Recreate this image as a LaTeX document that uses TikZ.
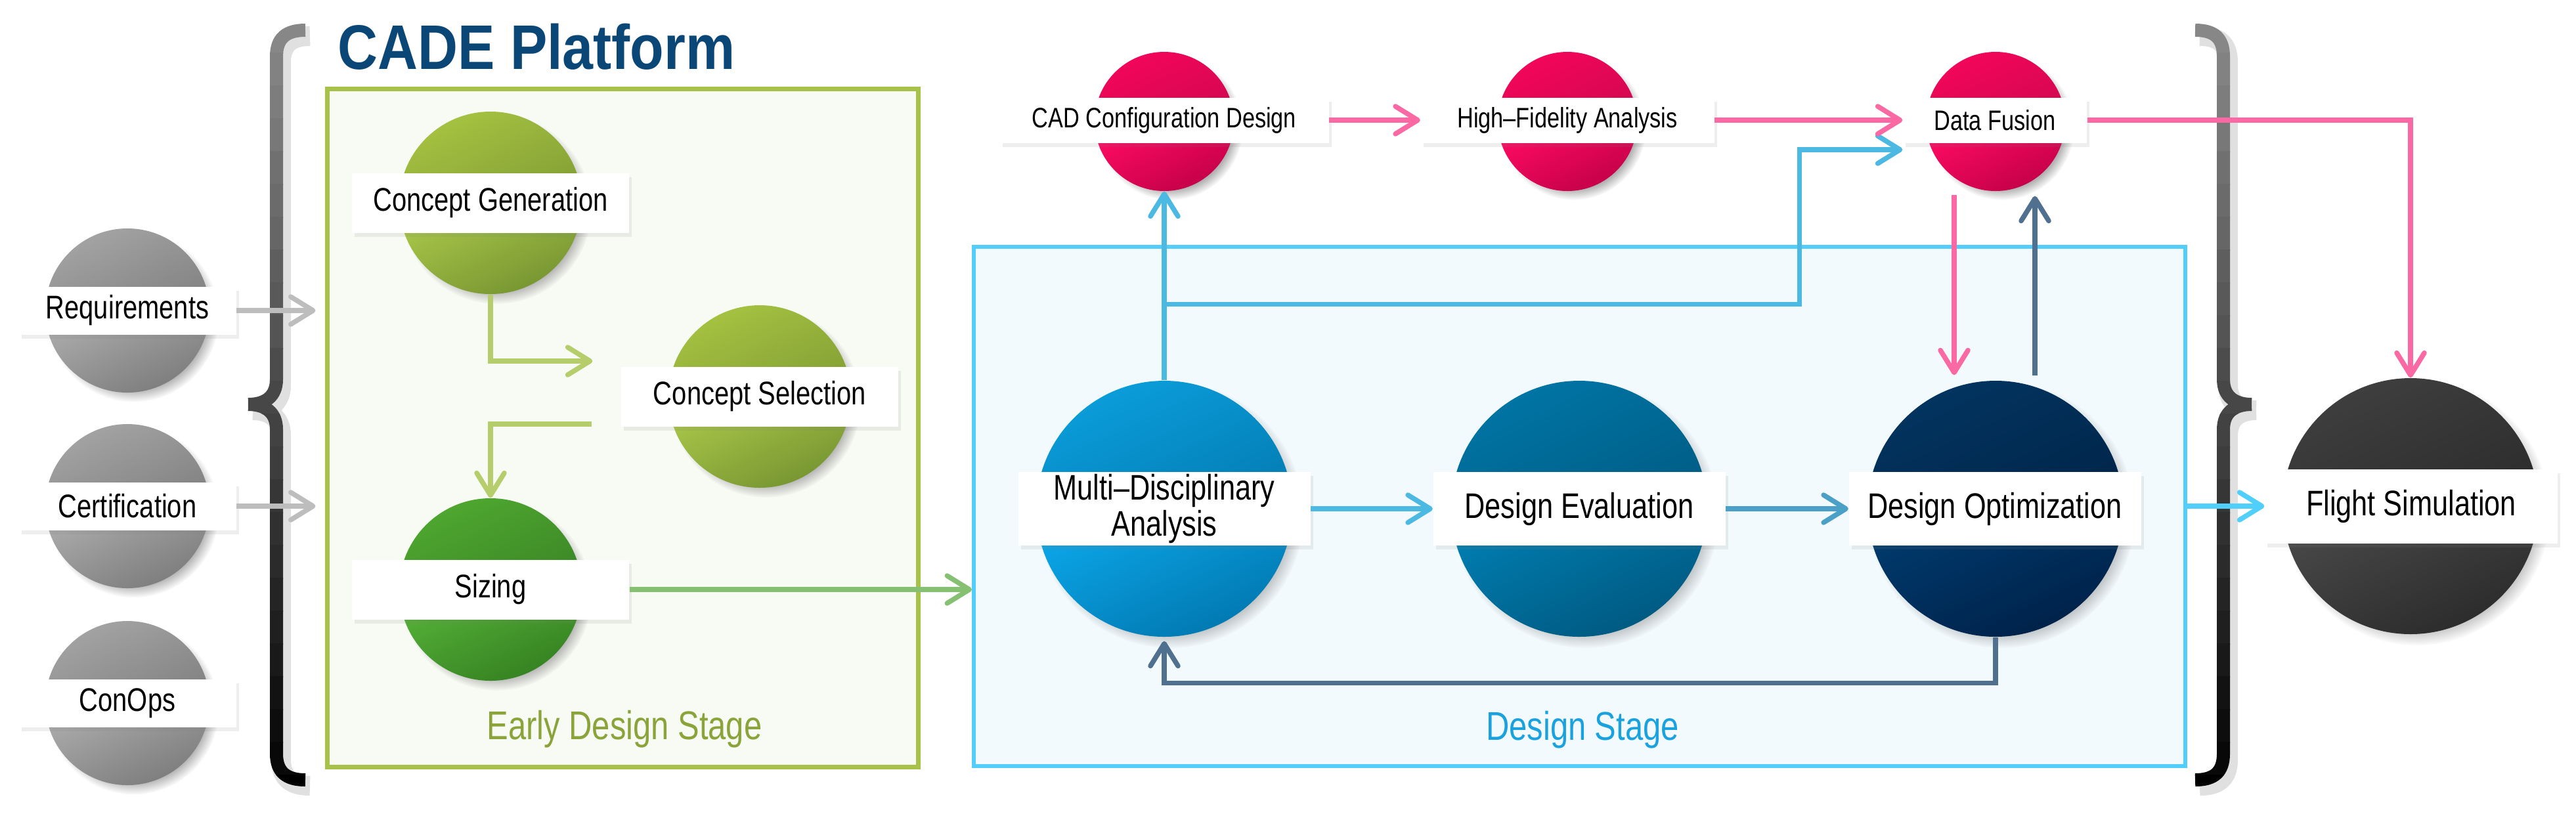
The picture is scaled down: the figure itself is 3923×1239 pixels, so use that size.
\documentclass[tikz,border=0pt]{standalone}
\usepackage{fontspec}
\usetikzlibrary{arrows.meta,shadows,fadings}
\newfontfamily\lblfont{Liberation Sans}[FakeStretch=0.8]
\newfontfamily\ttlfont{Liberation Sans}[FakeStretch=0.88]
% frame and text colours
\definecolor{ttlblue}{HTML}{0B4776}
\definecolor{earlyline}{HTML}{A6C248}
\definecolor{earlyfill}{HTML}{F8FAF4}
\definecolor{earlytxt}{HTML}{8AA43A}
\definecolor{dsline}{HTML}{53CDFB}
\definecolor{dsfill}{HTML}{F2FAFD}
\definecolor{dstxt}{HTML}{1AA2DF}
% connector colours
\definecolor{arrgray}{HTML}{BDBDBD}
\definecolor{arrlgreen}{HTML}{B5CE6B}
\definecolor{arrmgreen}{HTML}{86C173}
\definecolor{arrsky}{HTML}{4CB9E3}
\definecolor{arrteal}{HTML}{4AA0C6}
\definecolor{arrcyan}{HTML}{4FCFFA}
\definecolor{arrsteel}{HTML}{50708F}
\definecolor{arrpink}{HTML}{FB69A4}
% orb shades
\definecolor{gryA}{HTML}{A2A2A2}\definecolor{gryB}{HTML}{6E6E6E}\definecolor{gryC}{HTML}{ACACAC}\definecolor{gryD}{HTML}{7B7B7B}
\definecolor{lgrA}{HTML}{A4C141}\definecolor{lgrB}{HTML}{6F8A2D}\definecolor{lgrC}{HTML}{AAC849}\definecolor{lgrD}{HTML}{759330}
\definecolor{dgrA}{HTML}{4EA62F}\definecolor{dgrB}{HTML}{2F7420}\definecolor{dgrC}{HTML}{56B238}\definecolor{dgrD}{HTML}{337F20}
\definecolor{redA}{HTML}{F2065A}\definecolor{redB}{HTML}{BE0849}\definecolor{redC}{HTML}{FF0B63}\definecolor{redD}{HTML}{C10047}
\definecolor{mdaA}{HTML}{0A9CD9}\definecolor{mdaB}{HTML}{006A9E}\definecolor{mdaC}{HTML}{0CA7E9}\definecolor{mdaD}{HTML}{0076AE}
\definecolor{evlA}{HTML}{0074A4}\definecolor{evlB}{HTML}{004E72}\definecolor{evlC}{HTML}{007EB1}\definecolor{evlD}{HTML}{00577E}
\definecolor{optA}{HTML}{02345F}\definecolor{optB}{HTML}{001C3D}\definecolor{optC}{HTML}{003B6E}\definecolor{optD}{HTML}{002047}
\definecolor{fltA}{HTML}{3E3E3E}\definecolor{fltB}{HTML}{222222}\definecolor{fltC}{HTML}{494949}\definecolor{fltD}{HTML}{2A2A2A}

\begin{document}
\begin{tikzpicture}[x=0.1mm, y=-0.1mm,
    orb/.style n args={4}{circle, inner sep=0pt,
        circular drop shadow={shadow scale=1.04, shadow xshift=0.9mm, shadow yshift=-0.9mm, opacity=0.6},
        path picture={
            \shade[top color=#1, bottom color=#2, shading angle=25] (path picture bounding box.north west) rectangle (path picture bounding box.east);
            \shade[top color=#3, bottom color=#4, shading angle=25] (path picture bounding box.west) rectangle (path picture bounding box.south east);
        }},
    lbl/.style 2 args={fill=white, inner sep=0pt, align=center, minimum width=#1, minimum height=#2,
        drop shadow={opacity=0.13, shadow xshift=0.4mm, shadow yshift=-0.6mm}},
    smalltxt/.style={font=\lblfont\fontsize{12.2}{14}\selectfont},
    midtxt/.style={font=\lblfont\fontsize{14.2}{16}\selectfont},
    bigtxt/.style={font=\lblfont\fontsize{15.4}{15.9}\selectfont},
    stagetxt/.style={anchor=base, font=\lblfont\fontsize{17.4}{20}\selectfont},
    conn/.style={line width=0.75mm, -{Straight Barb[length=3.4mm, width=4.2mm, round]}},
    bracepen/.style={line width=2mm}]
\useasboundingbox[fill=white] (0,0) rectangle (3923,1239);

% stage frames
\node[draw=earlyline, line width=0.7mm, fill=earlyfill, minimum width=90mm, minimum height=103.3mm] (early) at (948,651.5) {};
\node[draw=dsline, line width=0.6mm, fill=dsfill, minimum width=184.5mm, minimum height=79.1mm] (ds) at (2405.5,771.5) {};
\node[stagetxt, text=earlytxt] (early-t) at (951,1126) {Early Design Stage};
\node[stagetxt, text=dstxt] (ds-t) at (2410,1127) {Design Stage};

% braces, shaded grey to black
\begin{scope}[shift={(7,9)}, draw=black, opacity=0.12]
    \draw[line width=3mm] (465,46) .. controls (436,46) and (421,58) .. (421,86) -- (421,578) .. controls (421,604) and (404,616) .. (378,616)
        (378,616) .. controls (404,616) and (421,628) .. (421,654) -- (421,1148) .. controls (421,1176) and (436,1188) .. (465,1188);
    \draw[line width=3mm] (3343,46) .. controls (3372,46) and (3386,58) .. (3386,86) -- (3386,578) .. controls (3386,604) and (3403,616) .. (3429,616)
        (3429,616) .. controls (3403,616) and (3386,628) .. (3386,654) -- (3386,1148) .. controls (3386,1176) and (3372,1188) .. (3343,1188);
\end{scope}
\foreach \k in {0,...,23}{
    \pgfmathsetmacro{\tone}{int(47+53*\k/23)}
    \begin{scope}
        \clip (300,{30+50*\k}) rectangle (3500,{81+50*\k});
        \draw[bracepen, draw=black!\tone] (465,46) .. controls (436,46) and (421,58) .. (421,86) -- (421,578) .. controls (421,604) and (404,616) .. (378,616)
            (378,616) .. controls (404,616) and (421,628) .. (421,654) -- (421,1148) .. controls (421,1176) and (436,1188) .. (465,1188);
        \draw[bracepen, draw=black!\tone] (3343,46) .. controls (3372,46) and (3386,58) .. (3386,86) -- (3386,578) .. controls (3386,604) and (3403,616) .. (3429,616)
            (3429,616) .. controls (3403,616) and (3386,628) .. (3386,654) -- (3386,1148) .. controls (3386,1176) and (3372,1188) .. (3343,1188);
    \end{scope}
}

% title
\node[anchor=base west, font=\ttlfont\bfseries\fontsize{27.3}{30}\selectfont, text=ttlblue] (title) at (502,105) {CADE Platform};

% inputs
\foreach \name/\y/\txt in {req/473/Requirements, cert/771/Certification, conops/1071/ConOps}{
    \node[orb={gryA}{gryB}{gryC}{gryD}, minimum size=25mm] (\name) at (194,\y) {};
    \node[lbl={33.1mm}{7.3mm}, midtxt] (\name-b) at (194,\y) {\txt};
}

% early design stage
\node[orb={lgrA}{lgrB}{lgrC}{lgrD}, minimum size=27.8mm] (gen) at (747,309) {};
\node[lbl={42.2mm}{9.1mm}, midtxt] (gen-b) at (747,309) {Concept Generation};
\node[orb={lgrA}{lgrB}{lgrC}{lgrD}, minimum size=27.8mm] (sel) at (1157,604) {};
\node[lbl={42.2mm}{9.1mm}, midtxt] (sel-b) at (1157,604) {Concept Selection};
\node[orb={dgrA}{dgrB}{dgrC}{dgrD}, minimum size=27.8mm] (siz) at (747,898) {};
\node[lbl={42.2mm}{9.1mm}, midtxt] (siz-b) at (747,898) {Sizing};

% high-fidelity row
\node[orb={redA}{redB}{redC}{redD}, minimum size=21.2mm] (cad) at (1773,185) {};
\node[lbl={50.1mm}{6.9mm}, smalltxt] (cad-b) at (1773,183) {CAD Configuration Design};
\node[orb={redA}{redB}{redC}{redD}, minimum size=21.2mm] (hfa) at (2387,185) {};
\node[lbl={44.7mm}{6.9mm}, smalltxt] (hfa-b) at (2387,183) {High–Fidelity Analysis};
\node[orb={redA}{redB}{redC}{redD}, minimum size=21.2mm] (fus) at (3039,185) {};
\node[lbl={28mm}{6.9mm}, smalltxt] (fus-b) at (3038,183) {Data Fusion};

% design stage
\node[orb={mdaA}{mdaB}{mdaC}{mdaD}, minimum size=39mm] (mda) at (1773,775) {};
\node[lbl={44.5mm}{11.2mm}, bigtxt] (mda-b) at (1773,775) {Multi–Disciplinary\\Analysis};
\node[orb={evlA}{evlB}{evlC}{evlD}, minimum size=39mm] (eval) at (2405,775) {};
\node[lbl={44.5mm}{11.2mm}, bigtxt] (eval-b) at (2405,775) {Design Evaluation};
\node[orb={optA}{optB}{optC}{optD}, minimum size=39mm] (opt) at (3039,775) {};
\node[lbl={44.5mm}{11.2mm}, bigtxt] (opt-b) at (3038,775) {Design Optimization};
\node[orb={fltA}{fltB}{fltC}{fltD}, minimum size=39mm] (flight) at (3671,771) {};
\node[lbl={44.6mm}{11.3mm}, bigtxt] (flight-b) at (3672,771) {Flight Simulation};

% connectors
\foreach \name in {req,cert}
    \draw[conn, draw=arrgray, shorten >=1.4mm] (\name-b.east) -- (\name-b -| early.west);
\draw[conn, draw=arrlgreen] (gen.south) |- ([xshift=-4.3mm,yshift=5.4mm]sel-b.west);
\draw[conn, draw=arrlgreen] ([xshift=-4.4mm,yshift=-4.2mm]sel-b.west) -| (siz.north);
\draw[conn, draw=arrmgreen] (siz-b.east) -- (siz-b -| ds.west);

\draw[conn, draw=arrsky] (mda-b.east) -- (eval-b.west);
\draw[conn, draw=arrteal] (eval-b.east) -- (opt-b.west);
\draw[conn, draw=arrsky] (mda.north) -- (cad.south);
\coordinate (fork) at ([yshift=11.6mm]mda.north);
\draw[conn, draw=arrsky] (fork) -| ([xshift=-15.7mm,yshift=-4.5mm]fus-b.west) -- ([yshift=-4.5mm]fus-b.west);
\draw[conn, draw=arrsteel, shorten >=0.6mm] (opt.south) -- ++(0,70) -| (mda.south);
\draw[conn, draw=arrsteel] ([xshift=6mm,yshift=0.7mm]opt.north) -- ([xshift=6mm,yshift=-0.7mm]fus.south);

\draw[conn, draw=arrpink] (cad-b.east) -- (hfa-b.west);
\draw[conn, draw=arrpink] (hfa-b.east) -- (fus-b.west);
\draw[conn, draw=arrpink] ([xshift=-6.3mm,yshift=-0.5mm]fus.south) -- ([xshift=-6.3mm,yshift=0.8mm]opt.north);
\draw[conn, draw=arrpink] (fus-b.east) -| (flight.north);
\draw[conn, draw=arrcyan] (ds.east |- flight-b) -- (flight-b.west);
\end{tikzpicture}
\end{document}
